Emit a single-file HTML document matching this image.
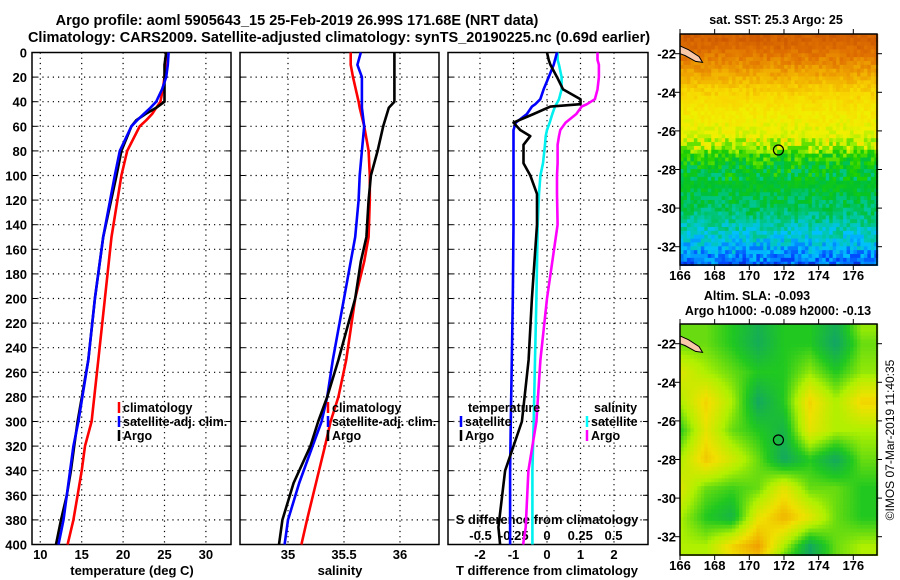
<!DOCTYPE html>
<html><head><meta charset="utf-8"><style>
body{margin:0;background:#fff;}
svg{display:block;font-family:"Liberation Sans",sans-serif;font-weight:bold;}
</style></head><body>
<svg id="fig" width="900" height="580" viewBox="0 0 900 580">
<text x="297" y="25" font-size="14.5" text-anchor="middle">Argo profile: aoml 5905643_15 25-Feb-2019 26.99S 171.68E (NRT data)</text>
<text x="339" y="42" font-size="14.5" text-anchor="middle">Climatology: CARS2009. Satellite-adjusted climatology: synTS_20190225.nc (0.69d earlier)</text>
<g id="layer"></g>
</svg>
<script>
// ---------- data ----------
const tP   = [0,10,20,30,40,45,50,55,60,80,100,150,200,250,300,320,340,360,380,400];
const tClim= [25.2,25.1,25.0,24.8,24.5,24.0,23.5,22.8,22.0,20.5,19.8,18.6,17.8,17.0,16.2,15.4,15.0,14.5,14.0,13.3];
const tSat = [25.5,25.4,25.2,24.7,24.0,23.3,22.5,21.7,21.0,19.6,19.0,17.6,16.6,15.8,14.6,14.0,13.6,13.2,12.8,12.2];
const tArgo= [25.2,25.0,25.0,25.0,25.0,24.0,22.7,21.6,21.0,19.8,19.2,17.6,16.6,15.8,14.5,14.1,13.7,13.2,12.5,11.9];
const sP   = [0,10,20,40,45,60,80,100,120,150,170,200,250,280,300,320,350,380,400];
const sClim= [35.56,35.56,35.58,35.63,35.64,35.68,35.72,35.73,35.73,35.72,35.68,35.6,35.52,35.45,35.38,35.33,35.25,35.17,35.12];
const sSat = [35.65,35.62,35.66,35.66,35.66,35.68,35.66,35.64,35.63,35.6,35.56,35.5,35.4,35.35,35.3,35.22,35.1,35.0,34.97];
const sArgo= [35.95,35.95,35.95,35.95,35.9,35.85,35.8,35.74,35.72,35.7,35.65,35.6,35.45,35.35,35.27,35.2,35.05,34.95,34.92];
const dP   = [0,6,10,20,30,38,42,44,50,57,63,68,75,90,100,115,140,200,250,300,340,386,400];
const dTSat= [0.3,0.24,0.2,0.05,-0.1,-0.2,-0.35,-0.45,-0.6,-0.93,-1.0,-1.0,-1.0,-1.0,-1.0,-1.0,-1.0,-1.02,-1.05,-1.08,-1.1,-1.1,-1.1];
const dTArgo=[0,0.05,0.1,0.3,0.48,1.0,1.0,0.1,-0.4,-1.0,-0.8,-0.5,-0.7,-0.7,-0.5,-0.3,-0.3,-0.45,-0.55,-0.75,-1.25,-1.45,-1.4];
const dSSat= [0.08,0.08,0.09,0.11,0.11,0.09,0.07,0.06,0.04,0.02,0.0,-0.01,-0.015,-0.03,-0.05,-0.06,-0.07,-0.08,-0.09,-0.1,-0.11,-0.11,-0.11];
const dSArgo=[0.38,0.38,0.39,0.39,0.38,0.36,0.3,0.26,0.22,0.14,0.1,0.09,0.08,0.08,0.075,0.075,0.08,0.0,-0.05,-0.08,-0.14,-0.16,-0.18];
const pTicks=[0,20,40,60,80,100,120,140,160,180,200,220,240,260,280,300,320,340,360,380,400];
const tTicks=[10,15,20,25,30];
const sTicks=[35,35.5,36];
const dTicks=[-2,-1,0,1,2];
const dsTicks=[-0.5,-0.25,0,0.25,0.5];
const dsLabels=["-0.5","-0.25","0","0.25","0.5"];
// SST colour-index per latitude (rows), SLA coarse grid
const sstLat=[-21.3,-22,-23,-24,-25,-26,-26.8,-27.3,-28,-29,-30,-31,-32,-33];
const sstVal=[0.84,0.8,0.74,0.67,0.63,0.6,0.58,0.47,0.41,0.39,0.36,0.31,0.26,0.2];
const slaLon=[166,167.5,169,170.5,172,173.5,175,176.5];
const slaLat=[-21.3,-22,-23.5,-25,-26.5,-28,-29.5,-31,-32.5,-33];
const slaVal=[
[1.5,1.5,1,0.4,1,1,0.3,1.8],
[1.5,1.5,1,0.3,1,1,0.1,1.5],
[2.7,2,1.5,1,1,1.8,1,1.8],
[2,3.2,2,0.2,1,3.2,2,3.2],
[1,2.8,1.5,1,0.5,2.8,2,2],
[2,3.4,2.5,1.5,0.2,1,0.2,1.5],
[2.7,1.5,1.2,1.5,2.8,1.5,1.5,1],
[2,1,0.5,2.8,3.7,2.8,1.5,1],
[2,2,3.2,4,2,0.2,1.5,2],
[2,2,3,3.6,1.5,0.2,1.5,2]];

const NS="http://www.w3.org/2000/svg";
const L=document.getElementById('layer');
function mk(tag,at,parent){const e=document.createElementNS(NS,tag);for(const k in at)e.setAttribute(k,at[k]);(parent||L).appendChild(e);return e;}
function txt(x,y,s,sz,anchor,name,parent){const e=mk('text',{x:x,y:y,'font-size':sz,'text-anchor':anchor||'middle'},parent);e.textContent=s;


return e;}

const yP=p=>52.5+p*1.23;
const panels=[
 {x0:32,x1:231,fx:v=>40.3+8.28*(v-10),ticks:tTicks,name:'temperature'},
 {x0:240,x1:439,fx:v=>288+112*(v-35),ticks:sTicks,name:'salinity'},
 {x0:448,x1:648,fx:v=>547+33.5*v,ticks:dTicks,name:'difference'}];
panels.forEach((pn,i)=>{
  const g=mk('g',{});
  
  
  pTicks.forEach(p=>{if(p>0&&p<400){const l=mk('line',{x1:pn.x0,x2:pn.x1,y1:yP(p),y2:yP(p),stroke:'#000','stroke-width':1.2,'stroke-dasharray':'1.2 4'},g);
    
    }
    mk('line',{x1:pn.x0,x2:pn.x0+5,y1:yP(p),y2:yP(p),stroke:'#000'},g);mk('line',{x1:pn.x1-5,x2:pn.x1,y1:yP(p),y2:yP(p),stroke:'#000'},g);
    if(i===0){txt(27,yP(p)+5,String(p),13,'end','y-tick-label',g);} });
  pn.ticks.forEach(v=>{const x=pn.fx(v);const l=mk('line',{x1:x,x2:x,y1:yP(0),y2:yP(400),stroke:'#000','stroke-width':1.2,'stroke-dasharray':'1.2 4'},g);
    
    
    txt(x,559,String(v),13,'middle','x-tick-label',g);});
  const r=mk('rect',{x:pn.x0,y:yP(0),width:pn.x1-pn.x0,height:yP(400)-yP(0),fill:'none',stroke:'#000','stroke-width':1.5},g);
  
  
});
txt(132,575,'temperature (deg C)',13,'middle','x-axis-title-temperature');
txt(340,575,'salinity',13,'middle','x-axis-title-salinity');
txt(547,575,'T difference from climatology',13,'middle','x-axis-title-tdiff');
dsTicks.forEach((v,i)=>{txt(547+133*v,540,dsLabels[i],13,'middle','s-diff-tick-label');});
txt(547,524,'S difference from climatology',13,'middle','s-diff-axis-title');

function series(P,V,fx,col,name){
  const pts=P.map((p,i)=>fx(V[i]).toFixed(1)+','+yP(p).toFixed(1)).join(' ');
  const e=mk('polyline',{points:pts,fill:'none',stroke:col,'stroke-width':2.6,'stroke-linejoin':'round'});
  
  
}
series(tP,tClim,panels[0].fx,'#ff0000','temp-climatology-line');
series(tP,tArgo,panels[0].fx,'#000','temp-argo-line');
series(tP,tSat,panels[0].fx,'#0000ff','temp-satellite-line');
series(sP,sClim,panels[1].fx,'#ff0000','sal-climatology-line');
series(sP,sSat,panels[1].fx,'#0000ff','sal-satellite-line');
series(sP,sArgo,panels[1].fx,'#000','sal-argo-line');
const fS=v=>547+133*v;
series(dP,dSSat,fS,'#00f0f0','sdiff-satellite-line');
series(dP,dSArgo,fS,'#ff00ff','sdiff-argo-line');
series(dP,dTSat,panels[2].fx,'#0000ff','tdiff-satellite-line');
series(dP,dTArgo,panels[2].fx,'#000','tdiff-argo-line');

function legend(x,y,items,nm){items.forEach((it,i)=>{const yy=y+i*14;
  const l=mk('line',{x1:x,x2:x,y1:yy-10,y2:yy+1,stroke:it[1],'stroke-width':2.5});
  
  
  txt(x+4,yy,it[0],12.5,'start',nm+'-label');});}
legend(119,412,[['climatology','#f00'],['satellite-adj. clim.','#00f'],['Argo','#000']],'temp-legend');
legend(328,412,[['climatology','#f00'],['satellite-adj. clim.','#00f'],['Argo','#000']],'sal-legend');
txt(468,412,'temperature',12.5,'start','tdiff-legend-header');
legend(461,426,[['satellite','#00f'],['Argo','#000']],'tdiff-legend');
txt(594,412,'salinity',12.5,'start','sdiff-legend-header');
legend(587,426,[['satellite','#0ff'],['Argo','#f0f']],'sdiff-legend');

// ---------- maps ----------
const stops=[[0.1,[0,0,128]],[0.18,[0,64,255]],[0.25,[0,192,255]],[0.3,[0,200,176]],[0.38,[0,192,48]],[0.45,[32,208,0]],[0.55,[160,240,0]],[0.6,[240,240,0]],[0.66,[248,216,0]],[0.73,[240,168,0]],[0.8,[224,112,0]],[0.9,[192,72,0]]];
function cmap(v){if(v<=stops[0][0])return stops[0][1];for(let i=1;i<stops.length;i++){if(v<=stops[i][0]){const a=stops[i-1],b=stops[i],t=(v-a[0])/(b[0]-a[0]);return a[1].map((c,k)=>Math.round(c+(b[1][k]-c)*t));}}return stops[stops.length-1][1];}
function interp1(xs,ys,x){if(x>=xs[0])return ys[0];for(let i=1;i<xs.length;i++){if(x>=xs[i]){const t=(x-xs[i-1])/(xs[i]-xs[i-1]);return ys[i-1]+(ys[i]-ys[i-1])*t;}}return ys[ys.length-1];}
function hash(i,j){let h=(i*374761393+j*668265263)>>>0;h=((h^(h>>>13))*1274126177)>>>0;return (h&1023)/1023-0.5;}
const slaStops=[[0,[16,160,112]],[1,[32,200,32]],[2,[176,240,0]],[3,[240,224,0]],[4,[240,160,0]]];
function slaCol(v){v=Math.max(0,Math.min(4,v));const i=Math.min(3,Math.floor(v)),t=v-i;return slaStops[i][1].map((c,k)=>Math.round(c+(slaStops[i+1][1][k]-c)*t));}
function slaAt(lon,lat){let ci=0;while(ci<slaLon.length-2&&lon>slaLon[ci+1])ci++;let ri=0;while(ri<slaLat.length-2&&lat<slaLat[ri+1])ri++;
 const tx=Math.max(0,Math.min(1,(lon-slaLon[ci])/(slaLon[ci+1]-slaLon[ci]))),ty=Math.max(0,Math.min(1,(lat-slaLat[ri])/(slaLat[ri+1]-slaLat[ri])));
 const a=slaVal[ri][ci],b=slaVal[ri][ci+1],c=slaVal[ri+1][ci],d=slaVal[ri+1][ci+1];return (a*(1-tx)+b*tx)*(1-ty)+(c*(1-tx)+d*tx)*ty;}

function drawMap(top,kind){
 const X0=680,X1=877,H=231;
 const fx=lon=>680+(lon-166)*17.33, fy=lat=>top+19.7+(-22-lat)*19.3;
 const g=mk('g',{});
 
 
 const cw=3.47,ch=3.86;
 for(let j=0;j*ch<H;j++){for(let i=0;i*cw<X1-X0;i++){
   const lon=166+(i*cw+cw/2)/17.33, lat=-22-((top+j*ch+ch/2)-(top+19.7))/19.3;
   let c;
   if(kind==='sst'){c=cmap(interp1(sstLat,sstVal,lat)+hash(i,j)*(lat<-26.3&&lat>-28.5?0.16:(lat<-29?0.09:0.05)));}
   else c=slaCol(slaAt(lon,lat));
   mk('rect',{x:(X0+i*cw).toFixed(2),y:(top+j*ch).toFixed(2),width:cw+0.4,height:ch+0.4,fill:'rgb('+c.join(',')+')'},g);}}
 const isl=mk('polygon',{points:[[166,-21.6],[166.5,-21.8],[167.1,-22.15],[167.3,-22.45],[166.9,-22.4],[166.3,-22.1],[166,-22.0]].map(a=>fx(a[0])+','+fy(a[1])).join(' '),fill:'#f8c8a8',stroke:'#000','stroke-width':1},g);
 
 
 const cir=mk('circle',{cx:fx(171.68),cy:fy(-26.99),r:5,fill:'none',stroke:'#000','stroke-width':1.2},g);
 
 
 mk('rect',{x:X0,y:top,width:X1-X0,height:H,fill:'none',stroke:'#000','stroke-width':1.5},g);
 [166,168,170,172,174,176].forEach(l=>{const x=fx(l);mk('line',{x1:x,x2:x,y1:top,y2:top-5,stroke:'#000'},g);mk('line',{x1:x,x2:x,y1:top+H,y2:top+H+5,stroke:'#000'},g);txt(x,top+H+15,String(l),13,'middle','map-lon-label',g);});
 [-22,-24,-26,-28,-30,-32].forEach(l=>{const y=fy(l);mk('line',{x1:X0-5,x2:X0,y1:y,y2:y,stroke:'#000'},g);mk('line',{x1:X1,x2:X1+5,y1:y,y2:y,stroke:'#000'},g);txt(676,y+5,String(l),13,'end','map-lat-label',g);});
}
drawMap(34,'sst');
drawMap(324,'sla');
txt(776,24,'sat. SST: 25.3 Argo: 25',12.5,'middle','sst-map-title');
txt(757,300,'Altim. SLA: -0.093',12.5,'middle','sla-map-title');
txt(778,315,'Argo h1000: -0.089 h2000: -0.13',12.5,'middle','sla-map-subtitle');
const im=txt(0,0,'©IMOS 07-Mar-2019 11:40:35',12,'middle','imos-timestamp');
im.setAttribute('transform','translate(894,440) rotate(-90)');
im.setAttribute('font-weight','normal');
</script>
</body></html>
